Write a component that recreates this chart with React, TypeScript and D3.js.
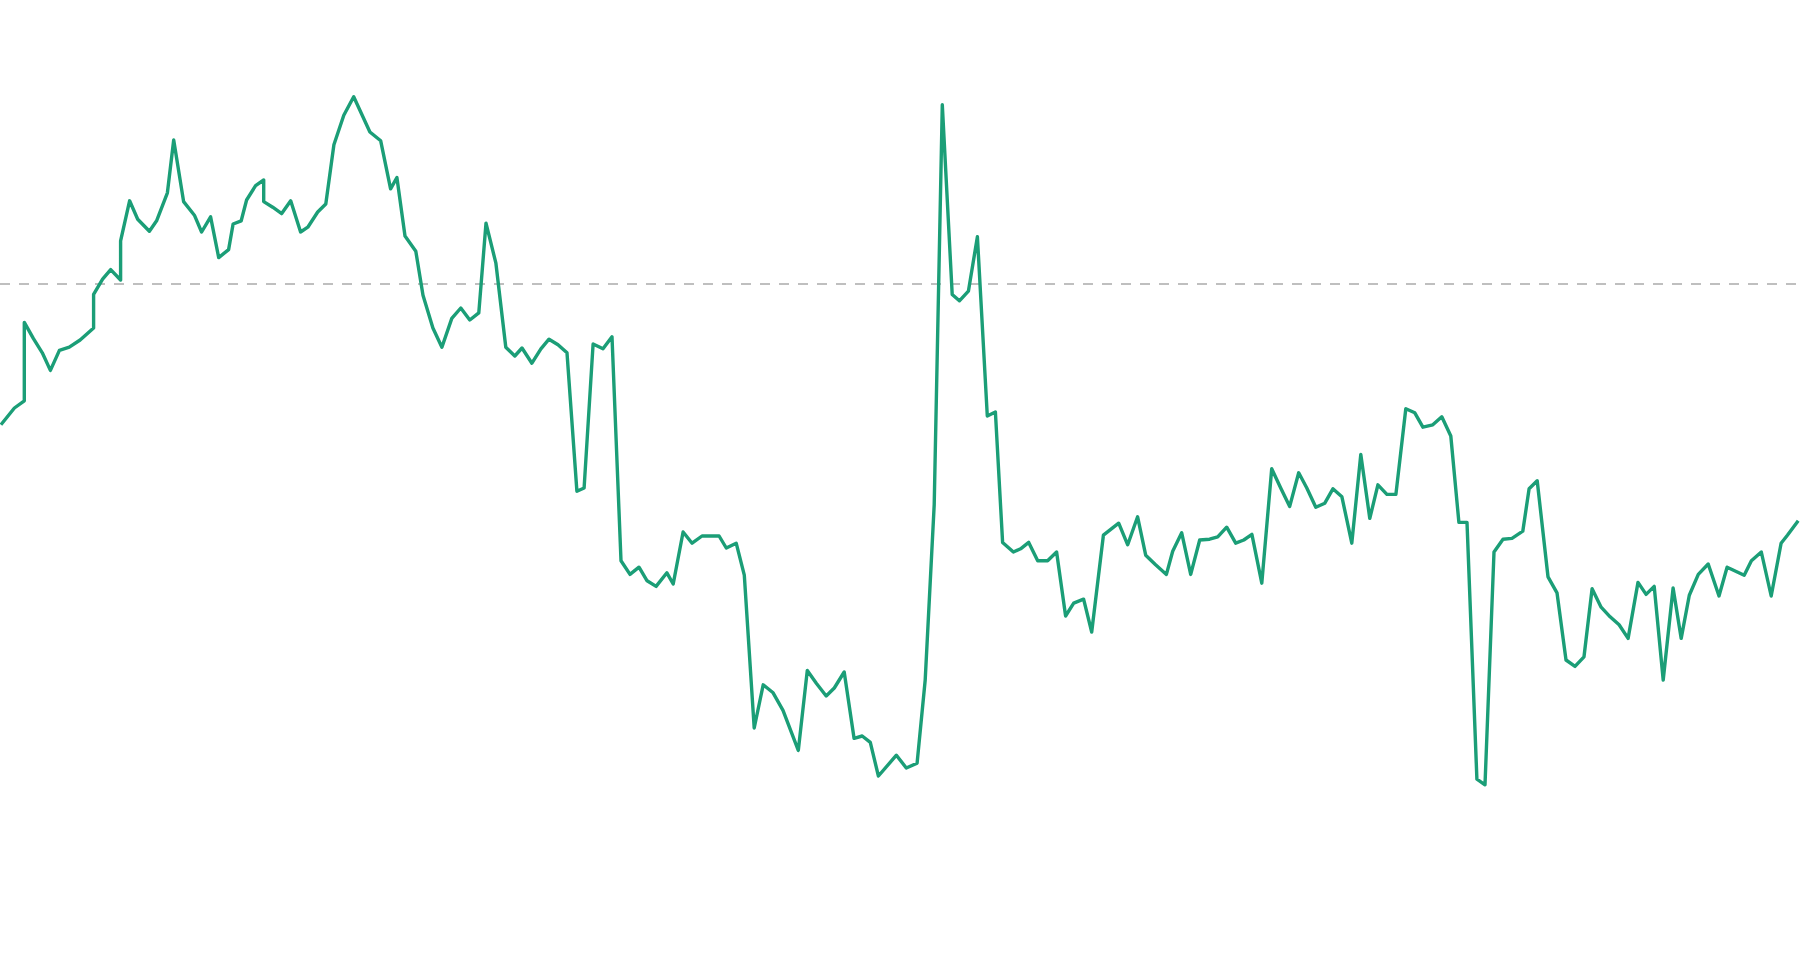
import { useEffect, useRef } from "react";
import * as d3 from "d3";

// x positions (day index) and values
const days = [
  0.1, 1.6, 2.7, 2.7, 3.7, 4.7, 5.6, 6.6, 7.7, 8.9, 10.4, 10.4, 11.4, 12.3, 13.4, 13.4, 14.4, 15.3, 16.6, 17.4,
  18.6, 19.3, 20.4, 21.6, 22.4, 23.4, 24.3, 25.4, 25.9, 26.8, 27.4, 28.4, 29.3, 29.3, 30.3, 31.3, 32.3, 33.4, 34.2, 35.3,
  36.2, 37.1, 38.2, 39.3, 41.1, 42.3, 43.4, 44.1, 45.0, 46.2, 47.0, 48.1, 49.1, 50.2, 51.2, 52.2, 53.2, 54.0, 55.1, 56.2,
  57.2, 58.0, 59.1, 60.1, 61.0, 62.0, 63.0, 64.1, 64.9, 65.9, 67.0, 68.0, 69.0, 70.0, 71.0, 71.9, 72.9, 74.1, 74.8, 75.9,
  76.9, 78.0, 79.9, 80.7, 81.8, 82.7, 83.8, 84.8, 85.9, 87.0, 88.7, 89.7, 90.7, 91.8, 92.7, 93.8, 94.9, 95.8, 96.7, 97.6,
  99.6, 100.7, 101.9, 102.8, 103.8, 104.7, 105.8, 106.6, 107.6, 108.6, 109.7, 110.6, 111.4, 112.6, 113.4, 114.3, 115.3, 116.4, 117.4, 118.4,
  119.3, 120.4, 121.3, 122.6, 124.3, 125.3, 126.4, 127.3, 128.4, 129.6, 130.3, 131.3, 132.3, 133.3, 134.4, 135.3, 136.3, 137.3, 138.2, 139.1,
  140.2, 141.3, 142.3, 143.3, 144.3, 145.2, 146.2, 147.2, 148.1, 149.1, 150.2, 151.2, 152.2, 153.1, 154.1, 155.1, 156.2, 157.2, 158.1, 159.2,
  160.2, 161.2, 162.1, 163.0, 164.1, 165.0, 166.0, 167.0, 168.0, 169.2, 169.9, 170.8, 172.0, 173.0, 174.0, 175.0, 176.0, 176.9, 177.9, 178.9,
  179.9, 180.9, 182.0, 182.9, 183.8, 184.8, 185.9, 186.8, 187.7, 188.7, 189.8, 191.0, 191.9, 193.8, 194.6, 195.7, 196.8, 197.9, 198.6, 199.8,
];

const values = [
  -17.6, -15.5, -14.6, -4.8, -6.8, -8.6, -10.8, -8.3, -7.9, -7.0, -5.5, -1.3, 0.6, 1.8, 0.5, 5.4, 10.4, 8.1, 6.6, 7.9,
  11.4, 18.0, 10.3, 8.6, 6.5, 8.4, 3.3, 4.3, 7.5, 7.9, 10.5, 12.3, 13.0, 10.3, 9.6, 8.8, 10.4, 6.5, 7.1, 9.0,
  10.0, 17.4, 21.1, 23.4, 19.0, 17.9, 11.9, 13.3, 6.0, 4.1, -1.4, -5.5, -7.9, -4.3, -3.0, -4.5, -3.6, 7.6, 2.6, -7.9,
  -9.0, -8.0, -9.9, -8.1, -6.9, -7.6, -8.6, -25.9, -25.5, -7.5, -8.1, -6.6, -34.6, -36.3, -35.4, -37.1, -37.8, -36.1, -37.5, -31.0,
  -32.4, -31.5, -31.5, -33.0, -32.4, -36.4, -55.5, -50.1, -51.1, -53.3, -58.3, -48.3, -49.9, -51.5, -50.5, -48.5, -56.8, -56.5, -57.3, -61.5,
  -58.9, -60.5, -59.9, -49.5, -27.6, 22.4, -1.3, -2.1, -0.9, 5.9, -16.5, -16.0, -32.3, -33.5, -33.1, -32.3, -34.6, -34.6, -33.5, -41.5,
  -39.9, -39.4, -43.5, -31.4, -29.9, -32.6, -29.1, -33.9, -35.1, -36.3, -33.4, -31.1, -36.3, -32.0, -31.9, -31.6, -30.4, -32.4, -32.0, -31.3,
  -37.4, -23.1, -25.5, -27.8, -23.6, -25.5, -27.9, -27.4, -25.6, -26.6, -32.4, -21.3, -29.3, -25.1, -26.3, -26.3, -15.6, -16.1, -17.9, -17.6,
  -16.6, -19.0, -29.8, -29.8, -61.9, -62.6, -33.5, -31.9, -31.8, -30.9, -25.6, -24.6, -36.6, -38.6, -47.0, -47.8, -46.6, -38.1, -40.4, -41.6,
  -42.6, -44.3, -37.3, -38.8, -37.8, -49.5, -38.0, -44.3, -38.9, -36.3, -35.0, -39.0, -35.4, -36.4, -34.6, -33.5, -39.0, -32.4, -31.4, -29.6,
];

const baseline = 0;

const width = 1800;
const height = 976;

function LineChart() {
  const svgRef = useRef<SVGSVGElement | null>(null);

  useEffect(() => {
    const svg = d3.select(svgRef.current);
    svg.selectAll("*").remove();

    const data = days.map((d, i) => ({ day: d, value: values[i] }));

    const xScale = d3.scaleLinear().domain([0, 200]).range([0, width]);
    const yScale = d3.scaleLinear().domain([-70, 30]).range([844, 44]);

    // dashed reference line
    svg
      .append("line")
      .attr("x1", xScale(0))
      .attr("x2", xScale(200))
      .attr("y1", yScale(baseline))
      .attr("y2", yScale(baseline))
      .attr("stroke", "#aaaaaa")
      .attr("stroke-width", 1.5)
      .attr("stroke-dasharray", "10 9");

    const line = d3
      .line<{ day: number; value: number }>()
      .x((d) => xScale(d.day))
      .y((d) => yScale(d.value));

    svg
      .append("path")
      .datum(data)
      .attr("d", line)
      .attr("fill", "none")
      .attr("stroke", "#1b9e77")
      .attr("stroke-width", 3.4)
      .attr("stroke-linejoin", "round");
  }, []);

  return (
    <svg
      ref={svgRef}
      width={width}
      height={height}
      style={{ position: "absolute", left: 0, top: 0, display: "block", background: "#fff" }}
    />
  );
}

export default function App() {
  return <LineChart />;
}
